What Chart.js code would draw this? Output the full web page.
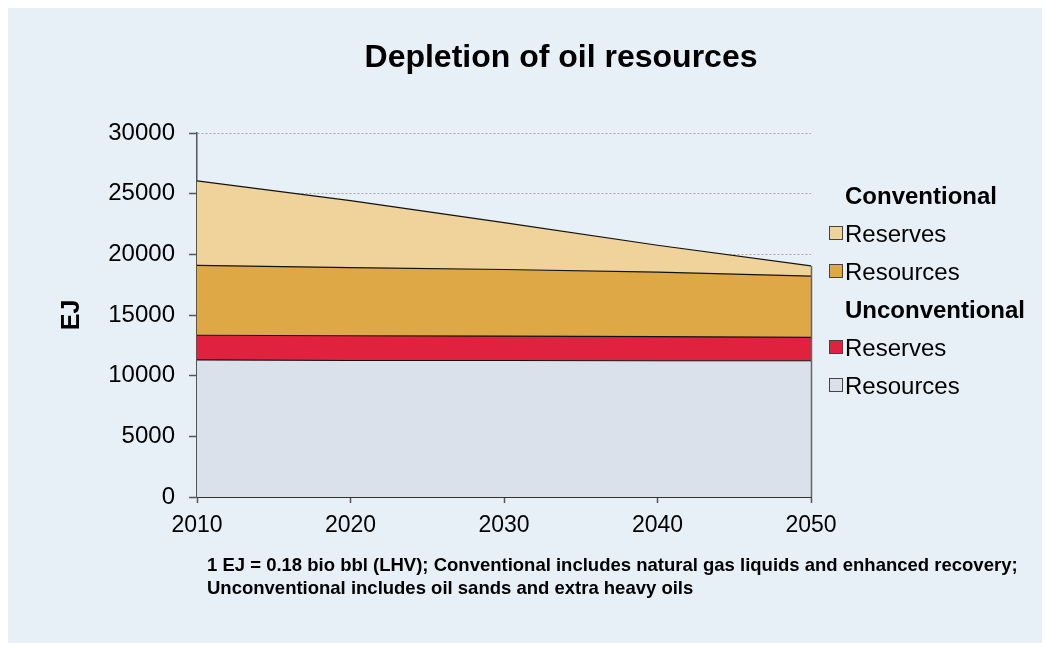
<!DOCTYPE html>
<html>
<head>
<meta charset="utf-8">
<script src="https://cdn.jsdelivr.net/npm/chart.js@4.4.1/dist/chart.umd.min.js"></script>
<style>
  html, body { margin: 0; padding: 0; background: #fff; }
  #wrap { width: 1047px; height: 648px; position: relative; }
</style>
</head>
<body>
<div id="wrap"><canvas id="chart" width="1047" height="648"></canvas></div>
<script>
// years on the x axis
var years = [2010, 2020, 2030, 2040, 2050];

// stacked layers, bottom to top (EJ)
var unconvResources = [11300, 11250, 11250, 11230, 11230];
var unconvReserves = [2030, 2040, 2010, 1980, 1930];
var convResources = [5760, 5620, 5490, 5320, 5040];
var convReserves = [6960, 5510, 3860, 2220, 850];

var yTicks = [0, 5000, 10000, 15000, 20000, 25000, 30000];

var FONT = 'Arial, "Liberation Sans", sans-serif';

function pts(vals) {
  return vals.map(function(v, i) { return { x: years[i], y: v }; });
}

var colors = {
  convRes: '#efd39a',
  convRsc: '#dfa846',
  uncRes: '#e0223f',
  uncRsc: '#dae1ea'
};

// background panel + title + footnote + legend
var decor = {
  id: 'decor',
  beforeDraw: function(chart) {
    var c = chart.ctx;
    c.save();
    c.fillStyle = '#ffffff';
    c.fillRect(0, 0, chart.width, chart.height);
    c.fillStyle = '#e8f0f7';
    c.fillRect(8, 8, 1034, 635);
    c.restore();
  },
  afterDatasetsDraw: function(chart) {
    // right edge of the stacked area
    var c = chart.ctx, x = chart.scales.x, y = chart.scales.y;
    var last = years.length - 1;
    var top = unconvResources[last] + unconvReserves[last] + convResources[last] + convReserves[last];
    c.save();
    c.strokeStyle = '#666';
    c.lineWidth = 1.5;
    c.beginPath();
    c.moveTo(Math.round(x.getPixelForValue(years[last])) + 0.5, y.getPixelForValue(top));
    c.lineTo(Math.round(x.getPixelForValue(years[last])) + 0.5, y.getPixelForValue(0));
    c.stroke();
    c.restore();
  },
  afterDraw: function(chart) {
    var c = chart.ctx;
    c.save();
    c.fillStyle = '#000';
    c.textBaseline = 'alphabetic';

    c.font = 'bold 32px ' + FONT;
    c.textAlign = 'center';
    c.fillText('Depletion of oil resources', 561, 67);

    // axis title
    c.save();
    c.translate(79, 315);
    c.rotate(-Math.PI / 2);
    c.font = 'bold 25px ' + FONT;
    c.fillText('EJ', 0, 0);
    c.restore();

    c.textAlign = 'left';
    c.font = 'bold 18.5px ' + FONT;
    c.fillText('1 EJ = 0.18 bio bbl (LHV); Conventional includes natural gas liquids and enhanced recovery;', 207, 571);
    c.fillText('Unconventional includes oil sands and extra heavy oils', 207, 594);

    // legend
    var rows = [
      { head: 'Conventional' },
      { label: 'Reserves', color: colors.convRes },
      { label: 'Resources', color: colors.convRsc },
      { head: 'Unconventional' },
      { label: 'Reserves', color: colors.uncRes },
      { label: 'Resources', color: colors.uncRsc }
    ];
    var y = 204;
    rows.forEach(function(r) {
      if (r.head) {
        c.font = 'bold 24px ' + FONT;
        c.fillStyle = '#000';
        c.fillText(r.head, 845, y);
      } else {
        c.fillStyle = r.color;
        c.fillRect(829, y - 16, 13, 13);
        c.strokeStyle = '#444';
        c.lineWidth = 1;
        c.strokeRect(829.5, y - 15.5, 13, 13);
        c.font = '24px ' + FONT;
        c.fillStyle = '#000';
        c.fillText(r.label, 845, y);
      }
      y += 38;
    });
    c.restore();
  }
};

function layer(label, vals, color, fill) {
  return {
    label: label,
    data: pts(vals),
    backgroundColor: color,
    borderColor: '#111',
    borderWidth: 1.2,
    pointRadius: 0,
    tension: 0,
    fill: fill
  };
}

new Chart(document.getElementById('chart'), {
  type: 'line',
  data: {
    datasets: [
      layer('Unconventional Resources', unconvResources, colors.uncRsc, 'origin'),
      layer('Unconventional Reserves', unconvReserves, colors.uncRes, '-1'),
      layer('Conventional Resources', convResources, colors.convRsc, '-1'),
      layer('Conventional Reserves', convReserves, colors.convRes, '-1')
    ]
  },
  options: {
    responsive: false,
    animation: false,
    layout: { padding: { left: 0, top: 133, right: 236, bottom: 0 } },
    plugins: {
      legend: { display: false },
      tooltip: { enabled: false },
      title: { display: false }
    },
    scales: {
      x: {
        type: 'linear',
        min: 2010,
        max: 2050,
        afterFit: function(s) { s.height = 151; },
        afterBuildTicks: function(s) {
          s.ticks = years.map(function(v) { return { value: v }; });
        },
        ticks: {
          color: '#000',
          font: { family: FONT, size: 23 },
          padding: 9,
          maxRotation: 0,
          callback: function(v) { return String(v); }
        },
        grid: {
          drawOnChartArea: false,
          tickLength: 6,
          tickColor: '#555',
          tickWidth: 1.5
        },
        border: { color: '#333', width: 2 }
      },
      y: {
        stacked: true,
        min: 0,
        max: 30000,
        afterFit: function(s) { s.width = 197; },
        afterBuildTicks: function(s) {
          s.ticks = yTicks.map(function(v) { return { value: v }; });
        },
        ticks: {
          color: '#000',
          font: { family: FONT, size: 24 },
          padding: 14,
          callback: function(v) { return String(v); }
        },
        grid: {
          color: '#a8a8a8',
          lineWidth: 1,
          tickBorderDash: [],
          tickColor: '#555',
          tickWidth: 1.5,
          tickLength: 8
        },
        border: { color: '#555', width: 1.5, dash: [2, 2] }
      }
    }
  },
  plugins: [decor]
});
</script>
</body>
</html>
